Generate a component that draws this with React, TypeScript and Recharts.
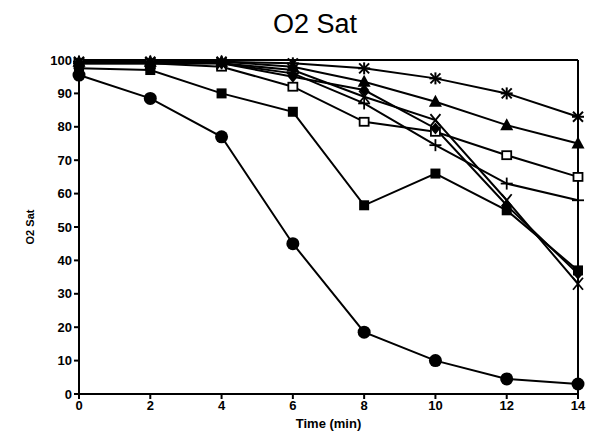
import React from "react";
import { LineChart, Line, XAxis, YAxis, ReferenceLine } from "recharts";

const times = [0, 2, 4, 6, 8, 10, 12, 14];
const circleSeries = [95.5, 88.5, 77, 45, 18.5, 10, 4.5, 3];
const filledSquareSeries = [97.5, 97, 90, 84.5, 56.5, 66, 55, 37];
const openSquareSeries = [99, 99, 98, 92, 81.5, 78.5, 71.5, 65];
const asteriskSeries = [99.5, 99.5, 99.5, 99, 97.5, 94.5, 90, 83];
const triangleSeries = [99.5, 99.5, 99.5, 98, 93.5, 87.5, 80.5, 75];
const crossSeries = [99, 99, 99, 97, 89, 82, 58, 33];
const plusSeries = [99, 99, 99, 96, 87, 74.5, 63, 58];
const diamondSeries = [99, 99, 99, 95, 91, 79.5, 56.5, 36];
const xTicks = [0, 2, 4, 6, 8, 10, 12, 14];
const yTicks = [0, 10, 20, 30, 40, 50, 60, 70, 80, 90, 100];

const data = times.map((t, i) => ({
  t,
  circle: circleSeries[i],
  fsq: filledSquareSeries[i],
  osq: openSquareSeries[i],
  ast: asteriskSeries[i],
  tri: triangleSeries[i],
  cross: crossSeries[i],
  plus: plusSeries[i],
  dia: diamondSeries[i],
}));

const makeDot = (kind: string) => (props: any) => {
  const { cx, cy, index } = props;
  const k = `${kind}-${index}`;
  if (cx == null || cy == null) return <g key={k} />;
  switch (kind) {
    case "circle":
      return <circle key={k} cx={cx} cy={cy} r={6.5} fill="#000" />;
    case "fsq":
      return <rect key={k} x={cx - 5} y={cy - 5} width={10} height={10} fill="#000" />;
    case "osq":
      return <rect key={k} x={cx - 4.5} y={cy - 4} width={9} height={8} fill="#fff" stroke="#000" strokeWidth={1.8} />;
    case "tri":
      return <path key={k} d={`M${cx},${cy - 7} L${cx + 6.5},${cy + 5} L${cx - 6.5},${cy + 5} Z`} fill="#000" />;
    case "ast":
      return (
        <g key={k} stroke="#000" strokeWidth={2}>
          <line x1={cx - 5} y1={cy - 5} x2={cx + 5} y2={cy + 5} />
          <line x1={cx - 5} y1={cy + 5} x2={cx + 5} y2={cy - 5} />
          <line x1={cx} y1={cy - 6} x2={cx} y2={cy + 6} />
          <line x1={cx - 6} y1={cy} x2={cx + 6} y2={cy} />
        </g>
      );
    case "cross":
      return (
        <g key={k} stroke="#000" strokeWidth={1.8}>
          <line x1={cx - 5} y1={cy - 6} x2={cx + 5} y2={cy + 6} />
          <line x1={cx - 5} y1={cy + 6} x2={cx + 5} y2={cy - 6} />
        </g>
      );
    case "plus":
      return (
        <g key={k} stroke="#000" strokeWidth={1.8}>
          <line x1={cx} y1={cy - 6} x2={cx} y2={cy + 6} />
          <line x1={cx - 6} y1={cy} x2={cx + 6} y2={cy} />
        </g>
      );
    case "dia":
      return <path key={k} d={`M${cx},${cy - 6} L${cx + 5},${cy} L${cx},${cy + 6} L${cx - 5},${cy} Z`} fill="#000" />;
    default:
      return <g key={k} />;
  }
};

const series = ["circle", "fsq", "osq", "ast", "tri", "cross", "plus", "dia"];

const font = "Liberation Sans, Arial, sans-serif";
const tickStyle = { fontFamily: font, fontWeight: 700, fontSize: 13, fill: "#000" };

const YLabel = (props: any) => {
  const vb = props.viewBox || {};
  const cx = 30;
  const cy = vb.y + vb.height / 2;
  return (
    <text x={cx} y={cy} transform={`rotate(-90, ${cx}, ${cy})`} textAnchor="middle" dominantBaseline="central" fontFamily={font} fontWeight={700} fontSize={11} fill="#000">
      O2 Sat
    </text>
  );
};

const XLabel = (props: any) => {
  const vb = props.viewBox || {};
  const cx = vb.x + vb.width / 2;
  return (
    <text x={cx} y={428} textAnchor="middle" fontFamily={font} fontWeight={700} fontSize={13} fill="#000">
      Time (min)
    </text>
  );
};

export default function App() {
  return (
    <div style={{ position: "absolute", left: 0, top: 0, width: 590, height: 444, background: "#fff" }}>
      <div
        style={{
          position: "absolute",
          left: 0,
          top: 9,
          width: 630,
          textAlign: "center",
          fontFamily: font,
          fontSize: 27,
          fontWeight: 500,
          color: "#000",
        }}
      >
        O2 Sat
      </div>
      <LineChart width={590} height={444} data={data} margin={{ top: 60, right: 12, bottom: 0, left: 39 }}>
        <XAxis
          dataKey="t"
          type="number"
          domain={[0, 14]}
          ticks={xTicks}
          interval={0}
          height={50}
          stroke="#000"
          strokeWidth={2}
          tickSize={5}
          tick={tickStyle}
          label={<XLabel />}
        />
        <YAxis
          type="number"
          domain={[0, 100]}
          ticks={yTicks}
          interval={0}
          width={40}
          stroke="#000"
          strokeWidth={2}
          tickSize={5}
          tick={tickStyle}
          label={<YLabel />}
        />
        <ReferenceLine y={100} stroke="#000" strokeWidth={2} />
        <ReferenceLine x={14} stroke="#000" strokeWidth={2} />
        {series.map((s) => (
          <Line key={s} dataKey={s} stroke="#000" strokeWidth={2} dot={makeDot(s)} isAnimationActive={false} />
        ))}
      </LineChart>
    </div>
  );
}
